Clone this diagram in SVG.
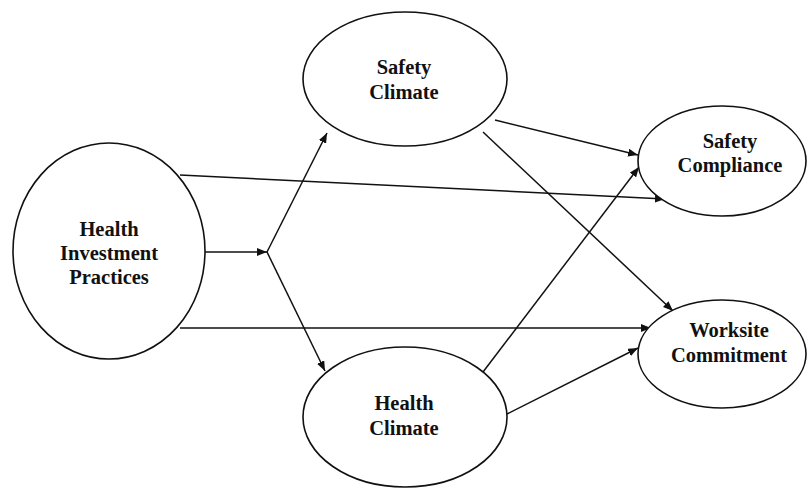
<svg xmlns="http://www.w3.org/2000/svg" width="811" height="490" viewBox="0 0 811 490">
<style>
.node ellipse{fill:#fff;stroke:#111;stroke-width:1.6}
.node text{font-family:"Liberation Serif","Times New Roman",serif;font-weight:bold;font-size:20.5px;fill:#111;text-anchor:middle}
.edges line{stroke:#111;stroke-width:1.5;marker-end:url(#arr)}
</style>
<defs>
<marker id="arr" viewBox="0 0 10 8" refX="10" refY="4" markerWidth="10" markerHeight="8" markerUnits="userSpaceOnUse" orient="auto">
<path d="M0,0 L10,4 L0,8 Z" fill="#111"/>
</marker>
</defs>
<rect width="811" height="490" fill="#fff"/>
<g class="edges">
<line x1="205" y1="252" x2="267" y2="252"/>
<line x1="267" y1="252" x2="327" y2="133"/>
<line x1="267" y1="252" x2="325" y2="371"/>
<line x1="180" y1="175" x2="665" y2="199"/>
<line x1="180" y1="328" x2="651" y2="328"/>
<line x1="495" y1="120" x2="638" y2="155"/>
<line x1="483" y1="132" x2="673" y2="311"/>
<line x1="483" y1="372" x2="639" y2="167"/>
<line x1="507" y1="414" x2="638" y2="348"/>
</g>
<g id="hip" class="node">
<ellipse cx="109" cy="251" rx="96" ry="108"/>
<text x="109" y="236">Health</text>
<text x="109" y="260">Investment</text>
<text x="109" y="284">Practices</text>
</g>
<g id="safety-climate" class="node">
<ellipse cx="405" cy="79" rx="102" ry="67"/>
<text x="404" y="74">Safety</text>
<text x="404" y="99">Climate</text>
</g>
<g id="health-climate" class="node">
<ellipse cx="405" cy="417" rx="102" ry="70"/>
<text x="404" y="410">Health</text>
<text x="404" y="435">Climate</text>
</g>
<g id="safety-compliance" class="node">
<ellipse cx="722" cy="161" rx="84" ry="55"/>
<text x="730" y="148">Safety</text>
<text x="730" y="172">Compliance</text>
</g>
<g id="worksite-commitment" class="node">
<ellipse cx="722" cy="354" rx="84" ry="54"/>
<text x="729" y="337">Worksite</text>
<text x="729" y="362">Commitment</text>
</g>
</svg>
